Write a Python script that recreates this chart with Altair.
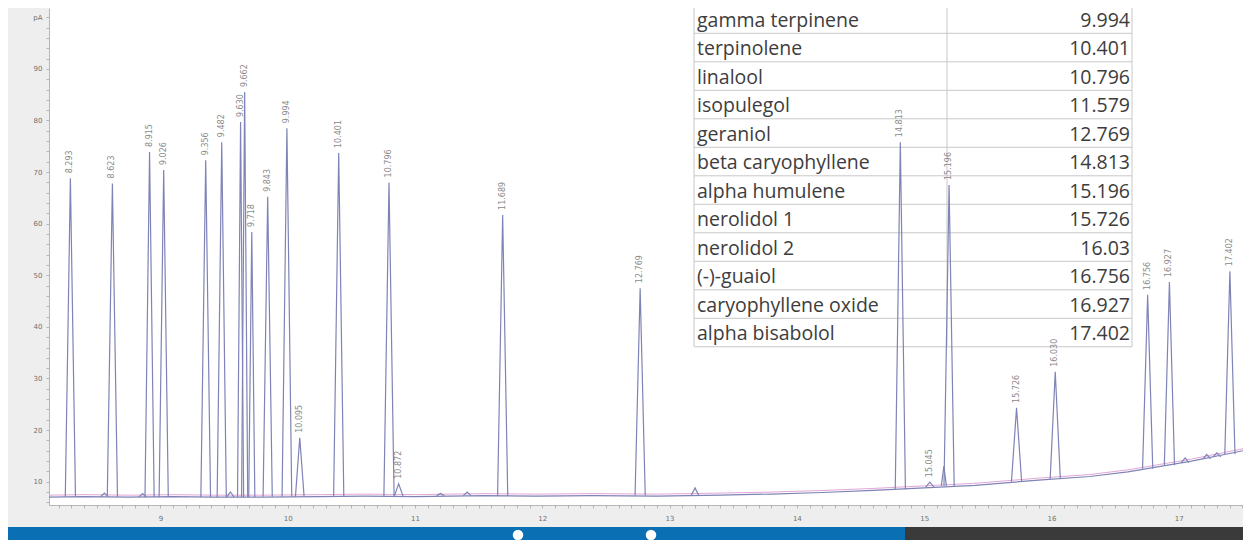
import altair as alt
import pandas as pd

# ---- chromatogram peaks (retention time min, apex pA, foot pA, half width min)
PEAK_T = [8.293, 8.623, 8.915, 9.026, 9.356, 9.482, 9.630, 9.662, 9.718, 9.843,
          9.994, 10.095, 10.401, 10.796, 10.872, 11.689, 12.769, 14.813, 15.045,
          15.196, 15.726, 16.030, 16.756, 16.927, 17.402]
PEAK_H = [68.8, 67.8, 73.9, 70.4, 72.3, 75.8, 79.7, 85.5, 58.4, 65.2,
          78.5, 18.5, 73.7, 68.0, 9.6, 61.7, 47.5, 75.8, 9.9,
          67.5, 24.3, 31.3, 46.2, 48.7, 50.8]
PEAK_BASE = [7.1, 7.1, 7.0, 7.0, 7.0, 7.0, 7.0, 7.0, 7.0, 7.1,
             7.1, 7.1, 7.1, 7.2, 7.2, 7.2, 7.3, 8.5, 8.9,
             9.1, 10.0, 10.5, 12.5, 13.2, 15.3]
PEAK_HW = [0.040, 0.040, 0.036, 0.036, 0.038, 0.036, 0.024, 0.024, 0.024, 0.036,
           0.038, 0.034, 0.040, 0.040, 0.034, 0.040, 0.040, 0.040, 0.034,
           0.040, 0.040, 0.040, 0.040, 0.040, 0.040]

# small unlabeled bumps on the baseline
BUMP_T = [8.56, 8.86, 9.55, 11.20, 11.41, 13.20, 15.155, 17.05, 17.22, 17.30]
BUMP_H = [7.8, 7.7, 8.0, 7.7, 8.0, 8.8, 13.0, 14.6, 15.3, 15.6]
BUMP_BASE = [7.1, 7.0, 7.0, 7.3, 7.3, 7.3, 9.2, 13.7, 14.4, 14.8]
BUMP_HW = [0.03, 0.03, 0.03, 0.03, 0.03, 0.03, 0.02, 0.03, 0.03, 0.03]

# baseline (drifting upward at the end of the run)
BASE_T = [8.125, 8.40, 8.75, 9.10, 9.42, 9.80, 10.25, 10.60, 11.00, 11.55, 11.95, 12.40,
          12.90, 13.40, 13.80, 14.20, 14.60, 15.00, 15.40, 15.90, 16.30, 16.60, 17.10, 17.505]
BASE_V = [7.0, 7.1, 7.0, 7.1, 7.0, 7.0, 7.1, 7.2, 7.1, 7.3, 7.2, 7.3,
          7.2, 7.4, 7.6, 7.9, 8.3, 8.8, 9.3, 10.3, 11.0, 11.9, 14.0, 16.0]

# ---- overlay table
TABLE_NAMES = ["gamma terpinene", "terpinolene", "linalool", "isopulegol", "geraniol",
               "beta caryophyllene", "alpha humulene", "nerolidol 1", "nerolidol 2",
               "(-)-guaiol", "caryophyllene oxide", "alpha bisabolol"]
TABLE_RT = ["9.994", "10.401", "10.796", "11.579", "12.769", "14.813", "15.196",
            "15.726", "16.03", "16.756", "16.927", "17.402"]

# ---- axes
X_DOMAIN = [8.125, 17.505]
Y_DOMAIN = [5.48, 101.8]
X_TICKS = [round(8.2 + 0.1 * i, 1) for i in range(94)]
Y_TICKS = list(range(6, 101, 2))

TRACE = "#7f83b6"
PINK = "#e3a7d6"
GRID = "#c8c8c8"
TXT = "#3d3d3d"

xs = alt.Scale(domain=X_DOMAIN, nice=False, zero=False)
ys = alt.Scale(domain=Y_DOMAIN, nice=False, zero=False)

x_axis = alt.Axis(values=X_TICKS, tickCount=500, title=None, grid=False, tickSize=3, labelFontSize=7,
                  labelColor="#707070", domainColor="#b5b5b5", tickColor="#b5b5b5",
                  labelPadding=6, labelFont="DejaVu Sans", labelOverlap=False,
                  labelExpr="abs(datum.value - round(datum.value)) < 0.01 ? format(datum.value, 'd') : ''")
y_axis = alt.Axis(values=Y_TICKS, tickCount=500, title=None, grid=False, tickSize=3, labelFontSize=7,
                  labelColor="#707070", domainColor="#b5b5b5", tickColor="#b5b5b5",
                  labelPadding=4, orient="left", labelFont="DejaVu Sans", labelOverlap=False,
                  labelExpr="datum.value == 100 ? 'pA' : (datum.value % 10 == 0 ? format(datum.value, 'd') : '')")

# peak polylines
rows = []
for i, (t, h, b, w) in enumerate(zip(PEAK_T, PEAK_H, PEAK_BASE, PEAK_HW)):
    rows += [dict(pid=i, k=0, t=t - w, v=b), dict(pid=i, k=1, t=t, v=h), dict(pid=i, k=2, t=t + w, v=b)]
for j, (t, h, b, w) in enumerate(zip(BUMP_T, BUMP_H, BUMP_BASE, BUMP_HW)):
    pid = 100 + j
    rows += [dict(pid=pid, k=0, t=t - w, v=b), dict(pid=pid, k=1, t=t, v=h), dict(pid=pid, k=2, t=t + w, v=b)]
peaks_df = pd.DataFrame(rows)
labels_df = pd.DataFrame({"t": PEAK_T, "h": PEAK_H, "lab": [f"{t:.3f}" for t in PEAK_T]})
base_df = pd.DataFrame({"t": BASE_T, "v": BASE_V})

pink = alt.Chart(base_df).mark_line(color=PINK, strokeWidth=1, yOffset=-2, clip=True).encode(
    x=alt.X("t:Q", scale=xs, axis=x_axis), y=alt.Y("v:Q", scale=ys, axis=y_axis))
base = alt.Chart(base_df).mark_line(color=TRACE, strokeWidth=1.2, clip=True).encode(
    x=alt.X("t:Q", scale=xs), y=alt.Y("v:Q", scale=ys))
peaks = alt.Chart(peaks_df).mark_line(color=TRACE, strokeWidth=1.2, clip=True).encode(
    x=alt.X("t:Q", scale=xs), y=alt.Y("v:Q", scale=ys), detail="pid:N", order="k:Q")
labels = alt.Chart(labels_df).mark_text(angle=270, align="left", baseline="middle", dx=5,
                                        fontSize=8, font="DejaVu Sans", color="#8a8a8a").encode(
    x=alt.X("t:Q", scale=xs), y=alt.Y("h:Q", scale=ys), text="lab:N")
trace = alt.layer(pink, base, peaks, labels)

# table
n = len(TABLE_NAMES)
row_scale = alt.Scale(domain=[0, n], range=[-3.2, 338.8])
tbl = pd.DataFrame({"name": TABLE_NAMES, "rt": TABLE_RT, "row": list(range(n))})
bounds = pd.DataFrame({"b": list(range(n + 1))})
span = pd.DataFrame({"y0": [0], "y1": [n]})

hlines = alt.Chart(bounds).mark_rule(color=GRID, strokeWidth=1).encode(
    y=alt.Y("b:Q", scale=row_scale, axis=None), x=alt.value(645), x2=alt.value(1083))
vlines = [alt.Chart(span).mark_rule(color=GRID, strokeWidth=1).encode(
    x=alt.value(px), y=alt.Y("y0:Q", scale=row_scale, axis=None), y2="y1:Q") for px in (645, 898, 1083)]
names = alt.Chart(tbl).transform_calculate(yc="datum.row + 0.5").mark_text(
    align="left", baseline="alphabetic", dy=7.5, font="Open Sans", fontSize=19.5, color=TXT).encode(
    x=alt.value(648), y=alt.Y("yc:Q", scale=row_scale, axis=None), text="name:N")
vals = alt.Chart(tbl).transform_calculate(yc="datum.row + 0.5").mark_text(
    align="right", baseline="alphabetic", dy=7.5, font="Open Sans", fontSize=19.5, color=TXT).encode(
    x=alt.value(1081), y=alt.Y("yc:Q", scale=row_scale, axis=None), text="rt:N")
table = alt.layer(hlines, *vlines, names, vals)

# video player bar at the bottom of the screenshot
one = pd.DataFrame({"a": [0]})
blue = alt.Chart(one).mark_rect(color="#0b6fb3").encode(
    x=alt.value(-49), x2=alt.value(856), y=alt.value(519), y2=alt.value(541))
dark = alt.Chart(one).mark_rect(color="#3a3a3a").encode(
    x=alt.value(856), x2=alt.value(1210), y=alt.value(519), y2=alt.value(541))
dot1 = alt.Chart(one).mark_circle(size=110, color="white", opacity=1).encode(x=alt.value(469), y=alt.value(527))
dot2 = alt.Chart(one).mark_circle(size=110, color="white", opacity=1).encode(x=alt.value(602), y=alt.value(527))
decor = alt.layer(blue, dark, dot1, dot2)

chart = alt.layer(table, trace, decor).resolve_scale(y="independent").properties(
    width=1194, height=497,
    autosize=alt.AutoSizeParams(type="none"),
    padding={"left": 41, "top": 0, "right": 0, "bottom": 35},
).configure(background="#eeeeee").configure_view(fill="white", stroke=None)

chart.save("out.html", embed_options={"renderer": "svg", "actions": False})
